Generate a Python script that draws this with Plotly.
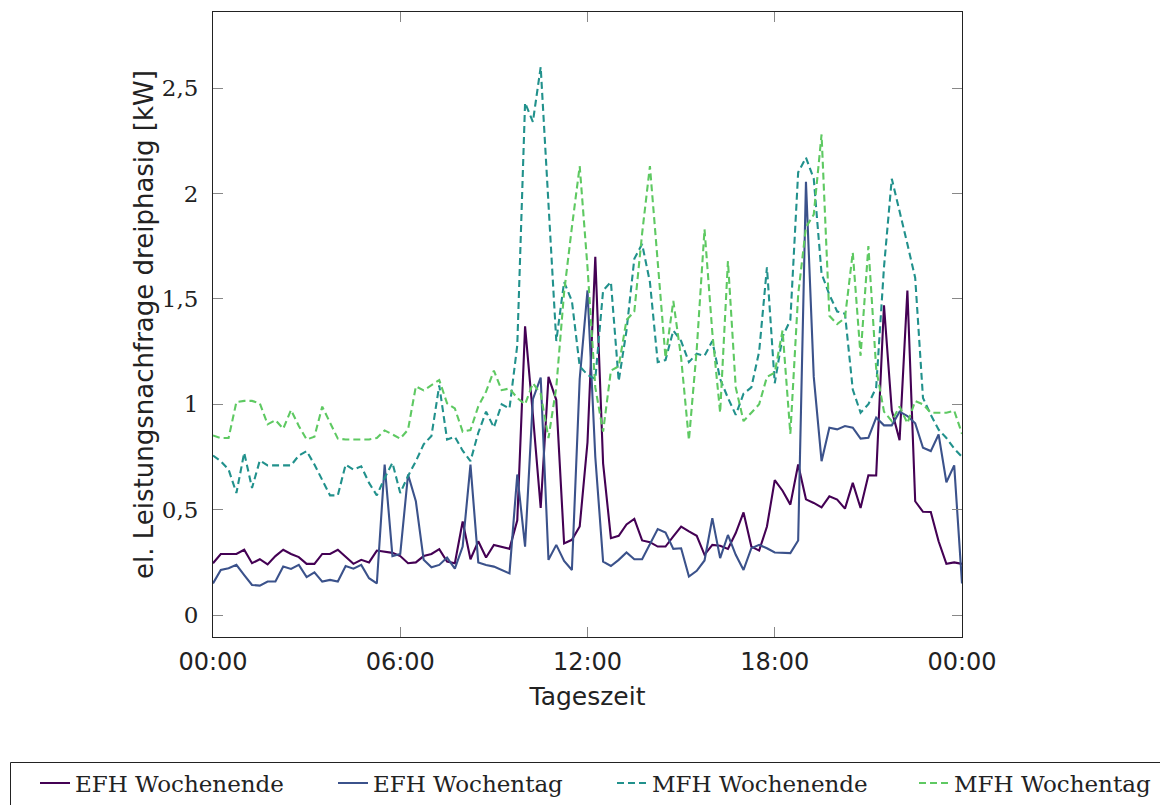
import plotly.graph_objects as go

# 15-minute resolution, 00:00 .. 24:00 (97 points)
time_hours = [i * 0.25 for i in range(97)]

efh_wochenende = [
    0.246, 0.29, 0.29, 0.29, 0.31, 0.246, 0.265, 0.24, 0.28, 0.31,
    0.29, 0.275, 0.243, 0.243, 0.29, 0.29, 0.31, 0.275, 0.243, 0.262,
    0.25, 0.306, 0.30, 0.295, 0.28, 0.246, 0.25, 0.28, 0.29, 0.313,
    0.254, 0.246, 0.444, 0.265, 0.35, 0.273, 0.333, 0.322, 0.314, 0.45,
    1.37, 0.95, 0.508, 1.13, 1.02, 0.34, 0.357, 0.42, 0.82, 1.70,
    0.72, 0.365, 0.376, 0.43, 0.456, 0.354, 0.346, 0.325, 0.325, 0.373,
    0.42, 0.397, 0.376, 0.286, 0.333, 0.329, 0.314, 0.389, 0.487, 0.325,
    0.306, 0.42, 0.64, 0.59, 0.524, 0.714, 0.549, 0.532, 0.511, 0.563,
    0.548, 0.505, 0.627, 0.508, 0.663, 0.662, 1.47, 0.97, 0.83, 1.54,
    0.54, 0.49, 0.489, 0.35, 0.243, 0.25, 0.243,
]

efh_wochentag = [
    0.15, 0.214, 0.222, 0.238, 0.19, 0.143, 0.14, 0.159, 0.159, 0.23,
    0.219, 0.238, 0.18, 0.203, 0.159, 0.167, 0.159, 0.233, 0.22, 0.238,
    0.175, 0.15, 0.714, 0.28, 0.29, 0.667, 0.54, 0.262, 0.227, 0.238,
    0.273, 0.22, 0.325, 0.714, 0.25, 0.238, 0.23, 0.214, 0.198, 0.667,
    0.325, 1.024, 1.127, 0.262, 0.333, 0.257, 0.214, 1.12, 1.54, 0.75,
    0.254, 0.233, 0.262, 0.297, 0.265, 0.265, 0.34, 0.408, 0.392, 0.314,
    0.317, 0.183, 0.21, 0.259, 0.46, 0.27, 0.38, 0.286, 0.214, 0.317,
    0.333, 0.317, 0.297, 0.297, 0.294, 0.354, 2.056, 1.13, 0.73, 0.889,
    0.881, 0.897, 0.889, 0.837, 0.841, 0.937, 0.90, 0.90, 0.965, 0.944,
    0.91, 0.794, 0.778, 0.857, 0.63, 0.71, 0.15,
]

mfh_wochenende = [
    0.757, 0.73, 0.69, 0.579, 0.77, 0.603, 0.733, 0.71, 0.71, 0.71,
    0.71, 0.757, 0.778, 0.714, 0.643, 0.568, 0.568, 0.714, 0.69, 0.706,
    0.627, 0.568, 0.65, 0.722, 0.579, 0.66, 0.73, 0.81, 0.85, 1.09,
    0.833, 0.846, 0.78, 0.73, 0.865, 0.965, 0.89, 1.0, 0.98, 1.28,
    2.43, 2.34, 2.60, 1.95, 1.30, 1.58, 1.49, 1.18, 1.14, 1.12,
    1.54, 1.58, 1.11, 1.35, 1.69, 1.76, 1.58, 1.20, 1.21, 1.35,
    1.30, 1.20, 1.24, 1.23, 1.30, 1.12, 1.03, 0.95, 1.05, 1.08,
    1.25, 1.65, 1.10, 1.32, 1.40, 2.10, 2.17, 2.07, 1.62, 1.52,
    1.44, 1.43, 1.07, 0.96, 1.00, 1.08, 1.65, 2.07, 1.92, 1.76,
    1.60, 1.03, 0.95, 0.88, 0.84, 0.79, 0.75,
]

mfh_wochentag = [
    0.852, 0.84, 0.84, 1.011, 1.016, 1.016, 1.005, 0.905, 0.925, 0.884,
    0.973, 0.897, 0.833, 0.846, 0.989, 0.913, 0.837, 0.833, 0.833, 0.833,
    0.833, 0.84, 0.876, 0.857, 0.837, 0.88, 1.085, 1.066, 1.09, 1.115,
    1.005, 0.98, 0.87, 0.878, 0.99, 1.06, 1.16, 1.067, 1.075, 1.03,
    1.0, 1.10, 1.05, 0.84, 1.08, 1.53, 1.84, 2.13, 1.65, 1.08,
    0.87, 1.16, 1.18, 1.40, 1.44, 1.81, 2.13, 1.66, 1.22, 1.49,
    1.22, 0.83, 1.26, 1.83, 1.34, 0.96, 1.68, 1.08, 0.92, 0.96,
    1.0, 1.13, 1.15, 1.35, 0.86, 1.52, 1.84, 1.90, 2.28, 1.42,
    1.38, 1.41, 1.72, 1.23, 1.75, 1.17, 0.965, 0.92, 0.99, 0.91,
    1.015, 1.0, 0.96, 0.96, 0.96, 0.97, 0.86,
]

x_tickvals = [0, 6, 12, 18, 24]
x_ticktext = ["00:00", "06:00", "12:00", "18:00", "00:00"]

series = [
    ("EFH Wochenende", efh_wochenende, "#440154", "solid", "legend"),
    ("EFH Wochentag", efh_wochentag, "#3b528b", "solid", "legend2"),
    ("MFH Wochenende", mfh_wochenende, "#21918c", "7px,4px", "legend3"),
    ("MFH Wochentag", mfh_wochentag, "#5ec962", "7px,4px", "legend4"),
]

fig = go.Figure()
for name, vals, color, dash, leg in series:
    fig.add_trace(go.Scatter(
        x=time_hours, y=vals, mode="lines", name=name,
        line=dict(color=color, width=2.1, dash=dash),
        legend=leg, hoverinfo="skip",
    ))

L, R, T, B = 213, 198, 12, 168
W, H = 1160, 805
pw, ph = W - L - R, H - T - B


def px_x(p):
    return (p - L) / pw


def px_y(p):
    return (H - B - p) / ph


leg_common = dict(
    orientation="h", yanchor="middle", xanchor="left",
    font=dict(family="DejaVu Serif", size=23, color="#222"),
    bgcolor="rgba(0,0,0,0)", borderwidth=0, itemwidth=30,
)
leg_y = px_y(783)
fig.update_layout(
    width=W, height=H,
    margin=dict(l=L, r=R, t=T, b=B, autoexpand=False),
    paper_bgcolor="white", plot_bgcolor="white",
    separators=",.",
    showlegend=True,
    legend=dict(x=px_x(35), y=leg_y, **leg_common),
    legend2=dict(x=px_x(333), y=leg_y, **leg_common),
    legend3=dict(x=px_x(612), y=leg_y, **leg_common),
    legend4=dict(x=px_x(914), y=leg_y, **leg_common),
    xaxis=dict(
        range=[0, 24], tickvals=x_tickvals, ticktext=x_ticktext,
        showline=True, linecolor="#222", linewidth=1, mirror="allticks",
        ticks="inside", ticklen=10, tickcolor="#888", tickwidth=1,
        showgrid=False, zeroline=False,
        tickfont=dict(family="DejaVu Sans", size=24, color="#222"),
        title=dict(text="Tageszeit", font=dict(family="DejaVu Sans", size=25, color="#222"), standoff=12),
        ticklabelstandoff=3,
    ),
    yaxis=dict(
        range=[-0.104, 2.861], tickvals=[0, 0.5, 1, 1.5, 2, 2.5],
        showline=True, linecolor="#222", linewidth=1, mirror="allticks",
        ticks="inside", ticklen=10, tickcolor="#888", tickwidth=1,
        showgrid=False, zeroline=False,
        tickfont=dict(family="DejaVu Serif", size=23, color="#222"),
        title=dict(text="el. Leistungsnachfrage dreiphasig [kW]",
                   font=dict(family="DejaVu Sans", size=26, color="#222"), standoff=0),
        ticklabelstandoff=9,
    ),
    shapes=[dict(
        type="rect", xref="paper", yref="paper",
        x0=px_x(10.5), x1=px_x(1200), y0=px_y(762.5), y1=px_y(830),
        line=dict(color="#222", width=1), fillcolor="rgba(0,0,0,0)", layer="above",
    )],
)

fig.write_html("out.html")
